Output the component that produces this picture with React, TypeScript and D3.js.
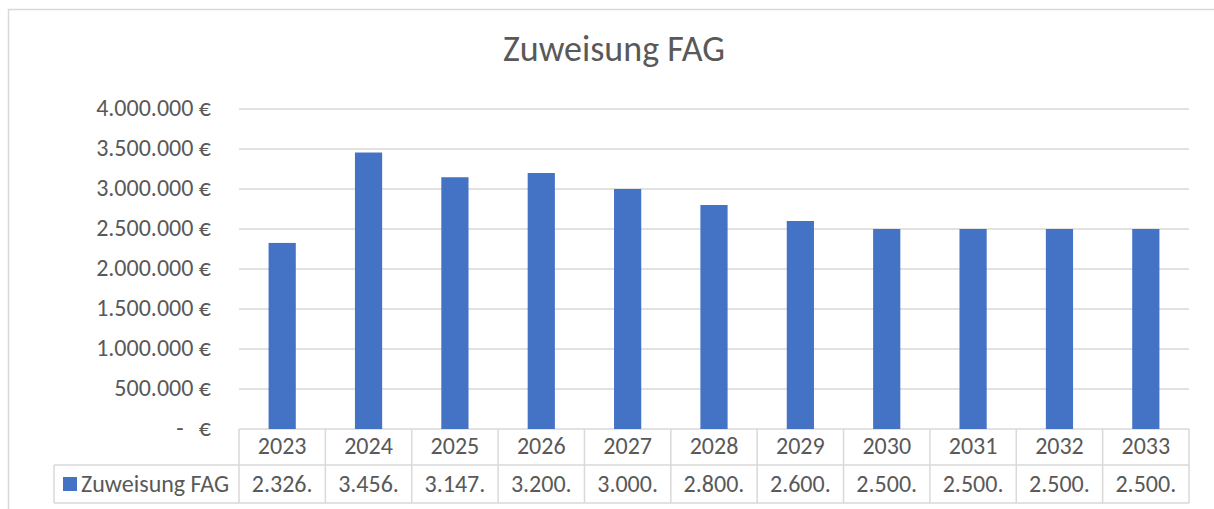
import React from "react";
import * as d3 from "d3";

const categories = ["2023", "2024", "2025", "2026", "2027", "2028", "2029", "2030", "2031", "2032", "2033"];
const values = [2326000, 3456000, 3147000, 3200000, 3000000, 2800000, 2600000, 2500000, 2500000, 2500000, 2500000];
const tableLabels = ["2.326.", "3.456.", "3.147.", "3.200.", "3.000.", "2.800.", "2.600.", "2.500.", "2.500.", "2.500.", "2.500."];
const yTicks = [0, 500000, 1000000, 1500000, 2000000, 2500000, 3000000, 3500000, 4000000];
const seriesName = "Zuweisung FAG";
const title = "Zuweisung FAG";

const W = 1214, H = 509;
const left = 239, right = 1189, top = 109, bottom = 429;
const row1 = 465, row2 = 503, tableLeft = 54;
const font = "Carlito, Calibri, Lato, 'Open Sans', sans-serif";
const textColor = "#595959";
const gridColor = "#d9d9d9";
const fs = 24;

const fmt = (v: number) => {
  if (v === 0) return null;
  return d3.format(",")(v).replace(/,/g, ".") + " €";
};

export default function App() {
  const x = d3.scaleBand<string>().domain(categories).range([left, right]).paddingInner(0.685).paddingOuter(0.3425);
  const xCell = d3.scaleBand<string>().domain(categories).range([left, right]);
  const y = d3.scaleLinear().domain([0, 4000000]).range([bottom, top]);

  return (
    <svg width={W} height={H} style={{ position: "absolute", left: 0, top: 0, display: "block" }}>
      <rect x={0} y={0} width={W} height={H} fill="#fff" />
      <rect x={8.5} y={9.5} width={W + 10} height={H + 10} fill="#fff" stroke={gridColor} strokeWidth={1.5} />
      <text x={614} y={61} textAnchor="middle" fontFamily={font} fontSize={36} fill={textColor}>{title}</text>
      {yTicks.map((t) => (
        <g key={t}>
          <line x1={left} x2={right} y1={y(t)} y2={y(t)} stroke={gridColor} strokeWidth={1.5} />
          {fmt(t) ? (
            <text x={211} y={y(t) + 6.5} textAnchor="end" fontFamily={font} fontSize={fs} fill={textColor}>{fmt(t)}</text>
          ) : (
            <g>
              <text x={180} y={y(t) + 6.5} textAnchor="middle" fontFamily={font} fontSize={fs} fill={textColor}>-</text>
              <text x={211} y={y(t) + 6.5} textAnchor="end" fontFamily={font} fontSize={fs} fill={textColor}>€</text>
            </g>
          )}
        </g>
      ))}
      {categories.map((c, i) => (
        <rect key={c} x={x(c)} y={y(values[i])} width={x.bandwidth()} height={bottom - y(values[i])} fill="#4472C4" />
      ))}
      <line x1={tableLeft} x2={right} y1={row1} y2={row1} stroke={gridColor} strokeWidth={1.5} />
      <line x1={tableLeft} x2={right} y1={row2} y2={row2} stroke={gridColor} strokeWidth={1.5} />
      <line x1={tableLeft} x2={tableLeft} y1={row1} y2={row2} stroke={gridColor} strokeWidth={1.5} />
      {categories.map((c) => (
        <line key={"v" + c} x1={xCell(c)} x2={xCell(c)} y1={bottom} y2={row2} stroke={gridColor} strokeWidth={1.5} />
      ))}
      <line x1={right} x2={right} y1={bottom} y2={row2} stroke={gridColor} strokeWidth={1.5} />
      {categories.map((c, i) => (
        <g key={"t" + c}>
          <text x={(xCell(c) as number) + xCell.bandwidth() / 2} y={454} textAnchor="middle" fontFamily={font} fontSize={fs} fill={textColor}>{c}</text>
          <text x={(xCell(c) as number) + xCell.bandwidth() / 2} y={492} textAnchor="middle" fontFamily={font} fontSize={fs} fill={textColor}>{tableLabels[i]}</text>
        </g>
      ))}
      <rect x={63} y={477} width={14} height={14} fill="#4472C4" />
      <text x={81} y={492} fontFamily={font} fontSize={fs} fill={textColor}>{seriesName}</text>
    </svg>
  );
}
